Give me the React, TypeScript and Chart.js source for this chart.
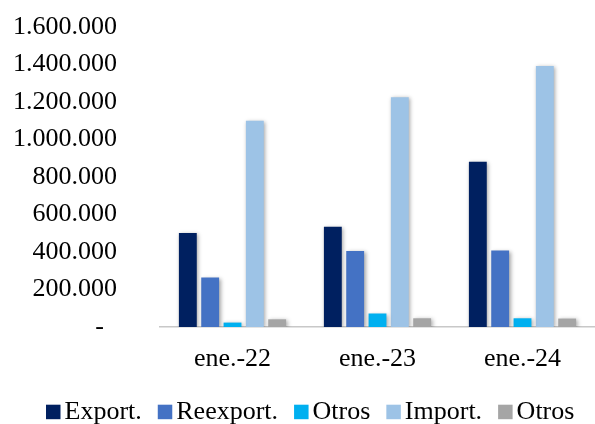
import React, { useEffect, useRef } from "react";
import { Chart, registerables } from "chart.js";

Chart.register(...registerables);

const categories = ["ene.-22", "ene.-23", "ene.-24"];
const seriesLabels = ["Export.", "Reexport.", "Otros", "Import.", "Otros"];
const exportValues = [502000, 535000, 882000];
const reexportValues = [264000, 405000, 408000];
const otrosExpValues = [23500, 72000, 46500];
const importValues = [1100000, 1225000, 1392000];
const otrosImpValues = [41000, 46500, 45000];
const seriesColors = ["#002060", "#4472C4", "#00B0F0", "#9DC3E6", "#A5A5A5"];
const yTicksMax = 1600000;
const yTicksStep = 200000;

const FONT = "'Liberation Serif', 'Times New Roman', serif";

function formatThousands(v: number): string {
  if (v === 0) return "-  ";
  return String(Math.round(v)).replace(/\B(?=(\d{3})+(?!\d))/g, ".");
}

const shadowPlugin = {
  id: "barShadow",
  beforeDatasetsDraw(chart: any) {
    const ctx = chart.ctx;
    ctx.save();
    ctx.shadowColor = "rgba(0,0,0,0.35)";
    ctx.shadowBlur = 4;
    ctx.shadowOffsetX = 1.5;
    ctx.shadowOffsetY = 1;
  },
  afterDatasetsDraw(chart: any) {
    chart.ctx.restore();
  },
};

const legendPlugin = {
  id: "customLegend",
  afterDraw(chart: any) {
    const ctx = chart.ctx;
    ctx.save();
    ctx.font = `26px ${FONT}`;
    ctx.textBaseline = "alphabetic";
    ctx.textAlign = "left";
    const box = 14.5;
    const textGap = 4;
    const itemGap = 16;
    let x = 46;
    const boxTop = 404.7;
    const baseline = 418.7;
    chart.data.datasets.forEach((ds: any) => {
      ctx.fillStyle = ds.backgroundColor;
      ctx.fillRect(x, boxTop, box, box);
      x += box + textGap;
      ctx.fillStyle = "#000000";
      ctx.fillText(ds.label, x, baseline);
      x += ctx.measureText(ds.label).width + itemGap;
    });
    ctx.restore();
  },
};

export default function App() {
  const canvasRef = useRef<HTMLCanvasElement | null>(null);

  useEffect(() => {
    if (!canvasRef.current) return;
    const valueSets = [exportValues, reexportValues, otrosExpValues, importValues, otrosImpValues];
    const chart = new Chart(canvasRef.current, {
      type: "bar",
      data: {
        labels: categories,
        datasets: seriesLabels.map((label, i) => ({
          label,
          data: valueSets[i],
          backgroundColor: seriesColors[i],
          borderWidth: 0,
          categoryPercentage: 0.77,
          barPercentage: 0.8,
        })),
      },
      options: {
        responsive: false,
        animation: false,
        layout: { padding: { top: 27, right: 0, bottom: 0, left: 0 } },
        plugins: {
          legend: { display: false },
          tooltip: { enabled: false },
        },
        scales: {
          x: {
            grid: { display: false, drawTicks: false },
            border: { display: true, color: "#C8C8C8", width: 1.5 },
            ticks: {
              color: "#000000",
              font: { family: FONT, size: 26 },
              padding: 17,
              maxRotation: 0,
            },
            afterFit(scale: any) {
              scale.height = 97;
            },
          },
          y: {
            min: 0,
            max: yTicksMax,
            grid: { display: false, drawTicks: false },
            border: { display: false },
            ticks: {
              stepSize: yTicksStep,
              autoSkip: false,
              color: "#000000",
              font: { family: FONT, size: 26 },
              padding: 43,
              callback: (v: any) => formatThousands(Number(v)),
            },
            afterFit(scale: any) {
              scale.width = 160;
              scale.paddingTop = 0;
              scale.paddingBottom = 0;
            },
          },
        },
      },
      plugins: [shadowPlugin, legendPlugin],
    });
    return () => chart.destroy();
  }, []);

  return (
    <div style={{ position: "absolute", left: 0, top: 0, width: 595, height: 424, background: "#ffffff" }}>
      <canvas ref={canvasRef} width={595} height={424} style={{ display: "block" }} />
    </div>
  );
}
